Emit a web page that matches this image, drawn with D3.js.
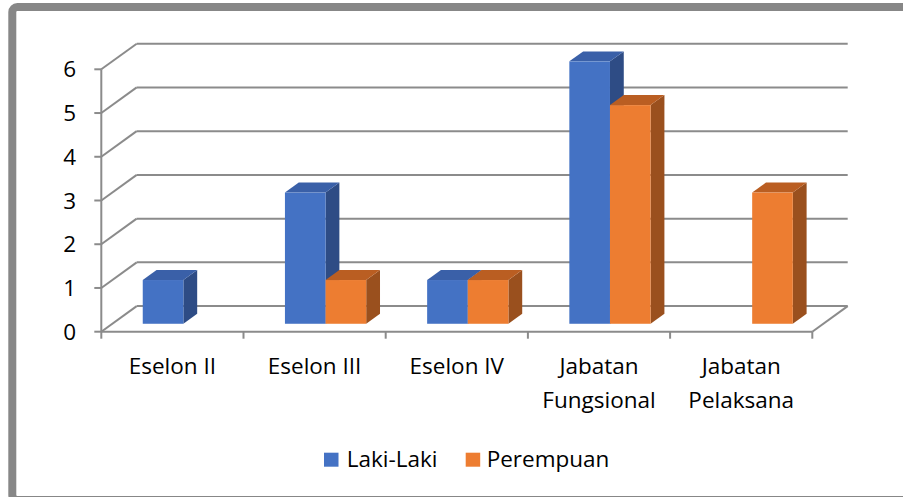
<!DOCTYPE html>
<html>
<head>
<meta charset="utf-8">
<script src="https://cdn.jsdelivr.net/npm/d3@7"></script>
<style>
  html, body { margin: 0; padding: 0; background: #fff; }
  svg { display: block; }
  text { font-family: "Open Sans", sans-serif; fill: #000; }
</style>
</head>
<body>
<svg id="chart" width="903" height="497"></svg>
<script>
const categories = ["Eselon II", "Eselon III", "Eselon IV", "Jabatan Fungsional", "Jabatan Pelaksana"];
const categoryLines = [["Eselon II"], ["Eselon III"], ["Eselon IV"], ["Jabatan", "Fungsional"], ["Jabatan", "Pelaksana"]];
const seriesNames = ["Laki-Laki", "Perempuan"];
const lakiLaki = [1, 3, 1, 6, 0];
const perempuan = [0, 1, 1, 5, 3];
const yTicks = [0, 1, 2, 3, 4, 5, 6];

const seriesValues = [lakiLaki, perempuan];
const colors = [
  { front: "#4472C4", top: "#3A60A8", side: "#2E4C85" },
  { front: "#ED7D31", top: "#BA5E22", side: "#9A501E" }
];

const svg = d3.select("#chart");

// Outer frame (clipped on the right like the reference)
svg.append("rect")
  .attr("x", 12.3).attr("y", 7)
  .attr("width", 1000).attr("height", 493)
  .attr("rx", 5)
  .attr("fill", "none")
  .attr("stroke", "#878787")
  .attr("stroke-width", 8);

const x = d3.scaleBand().domain(categories).range([101.3, 812.3]).padding(0);
const y = d3.scaleLinear().domain([0, 6]).range([331.7, 69.3]);
const sub = d3.scaleBand().domain(seriesNames)
  .range([0, x.bandwidth() * 2 / 3.5]).padding(0);

const depth = { dx: 35.4, dy: -25.6 };
const f1 = 0.31, f2 = 0.70;

const gridColor = "#8B8B8B";
const g = svg.append("g");

// Back wall gridlines + left wall diagonals
yTicks.forEach(t => {
  g.append("line")
    .attr("x1", x.range()[0] + depth.dx).attr("x2", x.range()[1] + depth.dx)
    .attr("y1", y(t) + depth.dy).attr("y2", y(t) + depth.dy)
    .attr("stroke", gridColor).attr("stroke-width", 2);
  g.append("line")
    .attr("x1", x.range()[0]).attr("y1", y(t))
    .attr("x2", x.range()[0] + depth.dx).attr("y2", y(t) + depth.dy)
    .attr("stroke", gridColor).attr("stroke-width", 2);
  // y tick mark
  g.append("line")
    .attr("x1", x.range()[0] - 7).attr("x2", x.range()[0])
    .attr("y1", y(t)).attr("y2", y(t))
    .attr("stroke", gridColor).attr("stroke-width", 2);
});

// Floor: front edge and right diagonal
g.append("line")
  .attr("x1", x.range()[0]).attr("x2", x.range()[1])
  .attr("y1", y(0)).attr("y2", y(0))
  .attr("stroke", gridColor).attr("stroke-width", 2);
g.append("line")
  .attr("x1", x.range()[1]).attr("y1", y(0))
  .attr("x2", x.range()[1] + depth.dx).attr("y2", y(0) + depth.dy)
  .attr("stroke", gridColor).attr("stroke-width", 2);

// Y axis vertical
g.append("line")
  .attr("x1", x.range()[0]).attr("x2", x.range()[0])
  .attr("y1", y(6)).attr("y2", y(0))
  .attr("stroke", gridColor).attr("stroke-width", 2);

// Category ticks
const tickPos = categories.map(c => x(c)).concat([x.range()[1]]);
tickPos.forEach(px => {
  g.append("line")
    .attr("x1", px).attr("x2", px)
    .attr("y1", y(0)).attr("y2", y(0) + 7)
    .attr("stroke", gridColor).attr("stroke-width", 2);
});

// Y labels
yTicks.forEach(t => {
  svg.append("text")
    .attr("x", 76).attr("y", y(t) + 8)
    .attr("text-anchor", "end")
    .attr("font-size", 22.5)
    .text(t);
});

// Category labels
categories.forEach((c, i) => {
  const cx = x(c) + x.bandwidth() / 2;
  const t = svg.append("text")
    .attr("text-anchor", "middle")
    .attr("font-size", 22.5);
  categoryLines[i].forEach((line, j) => {
    t.append("tspan").attr("x", cx).attr("y", 374.3 + j * 34).text(line);
  });
});

// Bars
const bars = svg.append("g");
const pts = p => p.map(q => q.join(",")).join(" ");
categories.forEach((c, i) => {
  const groupStart = x(c) + x.bandwidth() / 2 - sub.range()[1] / 2;
  seriesNames.forEach((s, k) => {
    const v = seriesValues[k][i];
    if (!v) return;
    const ox1 = depth.dx * f1, oy1 = depth.dy * f1;
    const ox2 = depth.dx * f2, oy2 = depth.dy * f2;
    const x0 = groupStart + sub(s) + ox1;
    const x1 = x0 + sub.bandwidth();
    const yb = y(0) + oy1;
    const yt = y(v) + oy1;
    const ddx = ox2 - ox1, ddy = oy2 - oy1;
    const col = colors[k];
    // side
    bars.append("polygon")
      .attr("points", pts([[x1, yt], [x1 + ddx, yt + ddy], [x1 + ddx, yb + ddy], [x1, yb]]))
      .attr("fill", col.side);
    // top
    bars.append("polygon")
      .attr("points", pts([[x0, yt], [x0 + ddx, yt + ddy], [x1 + ddx, yt + ddy], [x1, yt]]))
      .attr("fill", col.top);
    // front
    bars.append("rect")
      .attr("x", x0).attr("y", yt)
      .attr("width", x1 - x0).attr("height", yb - yt)
      .attr("fill", col.front);
  });
});

// Legend
const legendItems = [
  { name: seriesNames[0], sx: 324, tx: 346.7 },
  { name: seriesNames[1], sx: 465.7, tx: 486.7 }
];
legendItems.forEach((it, k) => {
  svg.append("rect")
    .attr("x", it.sx).attr("y", 452.7)
    .attr("width", 14.5).attr("height", 14)
    .attr("fill", colors[k].front);
  svg.append("text")
    .attr("x", it.tx).attr("y", 467.3)
    .attr("font-size", 22.5)
    .text(it.name);
});
</script>
</body>
</html>
